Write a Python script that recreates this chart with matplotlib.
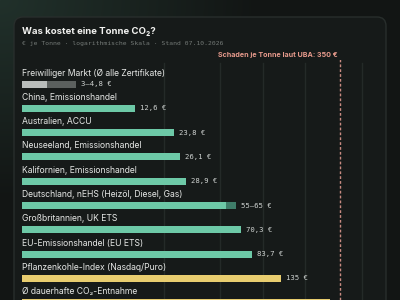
import numpy as np
import matplotlib
matplotlib.use("Agg")
import matplotlib.pyplot as plt
from matplotlib.patches import FancyBboxPatch

# ---- data ----
labels = [
    "Freiwilliger Markt (Ø alle Zertifikate)",
    "China, Emissionshandel",
    "Australien, ACCU",
    "Neuseeland, Emissionshandel",
    "Kalifornien, Emissionshandel",
    "Deutschland, nEHS (Heizöl, Diesel, Gas)",
    "Großbritannien, UK ETS",
    "EU-Emissionshandel (EU ETS)",
    "Pflanzenkohle-Index (Nasdaq/Puro)",
    "Ø dauerhafte CO₂-Entnahme",
]
low = [3, 12.6, 23.8, 26.1, 28.9, 55, 70.3, 83.7, 135, 300]
high = [4.8, 12.6, 23.8, 26.1, 28.9, 65, 70.3, 83.7, 135, 300]
value_text = ["3–4,8 €", "12,6 €", "23,8 €", "26,1 €", "28,9 €", "55–65 €",
              "70,3 €", "83,7 €", "135 €", "300 €"]
kind = ["gray", "green", "green", "green", "green", "green", "green", "green",
        "yellow", "yellow"]
uba_damage = 350
grid_ticks = [20, 50, 100, 200, 500]

colors_main = {"gray": "#b9bdbb", "green": "#6dc9a7", "yellow": "#e8cd6f"}
colors_range = {"gray": "#5b605e", "green": "#3f7d69", "yellow": "#a8924c"}

W, H = 400, 300
fig = plt.figure(figsize=(4, 3), dpi=100)
fig.patch.set_facecolor("#121514")

# background glow
bg = fig.add_axes([0, 0, 1, 1])
yy, xx = np.mgrid[0:H, 0:W]
d = np.sqrt((xx / 260.0) ** 2 + (yy / 200.0) ** 2)
t = np.clip(d, 0, 1)
c0 = np.array([0x21, 0x31, 0x2b]) / 255
c1 = np.array([0x12, 0x15, 0x14]) / 255
img = c0[None, None, :] * (1 - t[..., None]) + c1[None, None, :] * t[..., None]
bg.imshow(img, extent=[0, W, H, 0], aspect="auto")
bg.set_xlim(0, W)
bg.set_ylim(H, 0)
bg.axis("off")
card = FancyBboxPatch((14, 17), 372, 320, boxstyle="round,pad=0,rounding_size=9",
                      facecolor="#161a19", edgecolor="#282e2c", linewidth=1)
bg.add_patch(card)

fig.text(22 / W, 1 - 31 / H, "Was kostet eine Tonne CO₂?", color="#f2f2f0",
         fontsize=6.9, fontweight="bold", family="Inter", va="center", ha="left")
fig.text(22 / W, 1 - 43 / H, "€ je Tonne · logarithmische Skala · Stand 07.10.2026",
         color="#737976", fontsize=4.6, family="DejaVu Sans Mono", va="center", ha="left")

# main axes: px y 60..300, bar i center at 84 + 24.3 i
rows = np.arange(len(labels))
step = 24.3
top_i = (60 - 84) / step
bot_i = (300 - 84) / step
ax_w = 360.5
ax = fig.add_axes([22 / W, 0, ax_w / W, 240 / H])
ax.set_facecolor("none")
ax.set_xscale("log")
ax.set_xlim(2, 700)
ax.set_ylim(bot_i, top_i)
for s in ax.spines.values():
    s.set_visible(False)
ax.set_xticks([])
ax.set_yticks([])
ax.minorticks_off()

for g in grid_ticks:
    ax.axvline(g, ymin=0, ymax=(bot_i - (63 - 84) / step) / (bot_i - top_i),
               color="#242a28", lw=1, zorder=0)

bh = 7 / step
for i in rows:
    k = kind[i]
    ax.barh(i, low[i] - 2, left=2, height=bh, color=colors_main[k], zorder=2)
    if high[i] > low[i]:
        ax.barh(i, high[i] - low[i], left=low[i], height=bh, color=colors_range[k], zorder=2)
    ax.text(2.0, i - 11 / step, labels[i], color="#e6e8e6", fontsize=6.2,
            family="Inter", va="center", ha="left", zorder=3)
    if high[i] > 250:
        ax.text(high[i] / 1.04, i, value_text[i], color="#3a3420", fontsize=5.2,
                family="DejaVu Sans Mono", va="center", ha="right", zorder=3)
    else:
        ax.text(high[i] * 1.08, i, value_text[i], color="#d0d4d2", fontsize=5.2,
                family="DejaVu Sans Mono", va="center", ha="left", zorder=3)

ax.plot([uba_damage, uba_damage], [bot_i, (58 - 84) / step], color="#c98b82",
        lw=1, ls=(0, (2, 1.5)), zorder=4)
ax.text(uba_damage / 1.04, (55 - 84) / step, "Schaden je Tonne laut UBA: 350 €",
        color="#e79a8c", fontsize=5.15, fontweight="bold", family="Inter",
        va="center", ha="right", zorder=4, clip_on=False)

fig.savefig("out.png", dpi=100, facecolor=fig.get_facecolor())
